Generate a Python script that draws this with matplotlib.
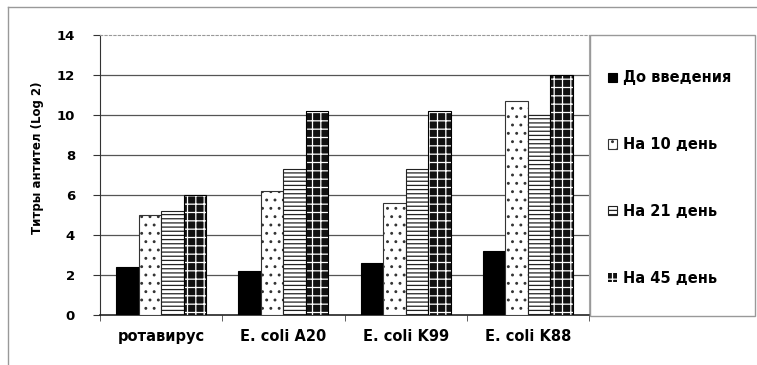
import numpy as np
import matplotlib
matplotlib.use("Agg")
import matplotlib.pyplot as plt  # noqa: E402
from matplotlib.patches import Rectangle  # noqa: E402
from matplotlib.lines import Line2D  # noqa: E402

categories = ["ротавирус", "E. coli A20", "E. coli K99", "E. coli K88"]
series = ["До введения", "На 10 день", "На 21 день", "На 45 день"]
before = [2.4, 2.2, 2.6, 3.2]
day10 = [5.0, 6.2, 5.6, 10.7]
day21 = [5.2, 7.3, 7.3, 10.0]
day45 = [6.0, 10.2, 10.2, 12.0]
yticks = [0, 2, 4, 6, 8, 10, 12, 14]

plt.rcParams["font.family"] = ["DejaVu Sans"]
plt.rcParams["font.weight"] = "bold"
plt.rcParams["hatch.linewidth"] = 0.9

W, H = 757, 365
fig = plt.figure(figsize=(W / 100, H / 100), dpi=100)
ax = fig.add_axes([100 / W, 1 - 315 / H, 489 / W, 280 / H])

x = np.arange(len(categories))
width = 0.184
offs = [-1.5 * width, -0.5 * width, 0.5 * width, 1.5 * width]

ax.bar(x + offs[0], before, width, color="black", edgecolor="black",
       linewidth=0.8, label=series[0], zorder=3)
ax.bar(x + offs[1], day10, width, color="white", edgecolor="#333333",
       hatch="..", linewidth=0.8, label=series[1], zorder=3)
ax.bar(x + offs[2], day21, width, color="white", edgecolor="#222222",
       hatch="----", linewidth=0.8, label=series[2], zorder=3)
ax.bar(x + offs[3], day45, width, color="#111111", edgecolor="white",
       hatch="++", linewidth=0, label=series[3], zorder=3)
ax.bar(x + offs[3], day45, width, fill=False, edgecolor="black",
       linewidth=0.8, zorder=4)

ax.set_xlim(-0.5, len(categories) - 0.5)
ax.set_ylim(0, 14)
ax.set_yticks(yticks)
ax.set_yticklabels([str(t) for t in yticks], fontsize=9.5, fontweight="bold")
ax.set_xticks(x)
ax.set_xticklabels(categories, fontsize=10.5, fontweight="bold")
ax.set_xticks(np.arange(len(categories) + 1) - 0.5, minor=True)
ax.tick_params(axis="x", which="major", length=0, pad=10)
ax.tick_params(axis="x", which="minor", length=4, direction="out",
               color="#444444")
ax.tick_params(axis="y", length=5, direction="out", pad=13, color="#333333")

for t in yticks[1:-1]:
    ax.axhline(t, color="#555555", linewidth=0.9, zorder=1)

ax.spines["top"].set_linestyle((0, (2, 2)))
ax.spines["top"].set_color("#999999")
ax.spines["right"].set_color("#aaaaaa")
ax.spines["left"].set_color("#333333")
ax.spines["bottom"].set_color("#222222")
ax.spines["bottom"].set_linewidth(1.2)

fig.text(38 / W, 1 - 158 / H, "Титры антител (Log 2)", rotation=90,
         ha="center", va="center", fontsize=8.5, fontweight="semibold")

# legend box and entries
fig.patches.append(Rectangle((590 / W, 1 - 316 / H), 165 / W, 281 / H,
                             transform=fig.transFigure, fill=False,
                             edgecolor="#999999", linewidth=1.0))
handles, labels = ax.get_legend_handles_labels()
fig.legend(handles, labels, loc="upper left",
           bbox_to_anchor=(601 / W, 1 - 63 / H), frameon=False,
           borderpad=0, labelspacing=3.55,
           handlelength=0.6, handleheight=0.6, handletextpad=0.4,
           prop={"weight": "bold", "size": 10.5})

# outer chart frame (top and left edges)
fig.add_artist(Line2D([8 / W, 1], [1 - 7 / H, 1 - 7 / H],
                      transform=fig.transFigure, color="#999999", lw=1))
fig.add_artist(Line2D([8 / W, 8 / W], [0, 1 - 7 / H],
                      transform=fig.transFigure, color="#999999", lw=1))

fig.savefig("out.png", dpi=100)
